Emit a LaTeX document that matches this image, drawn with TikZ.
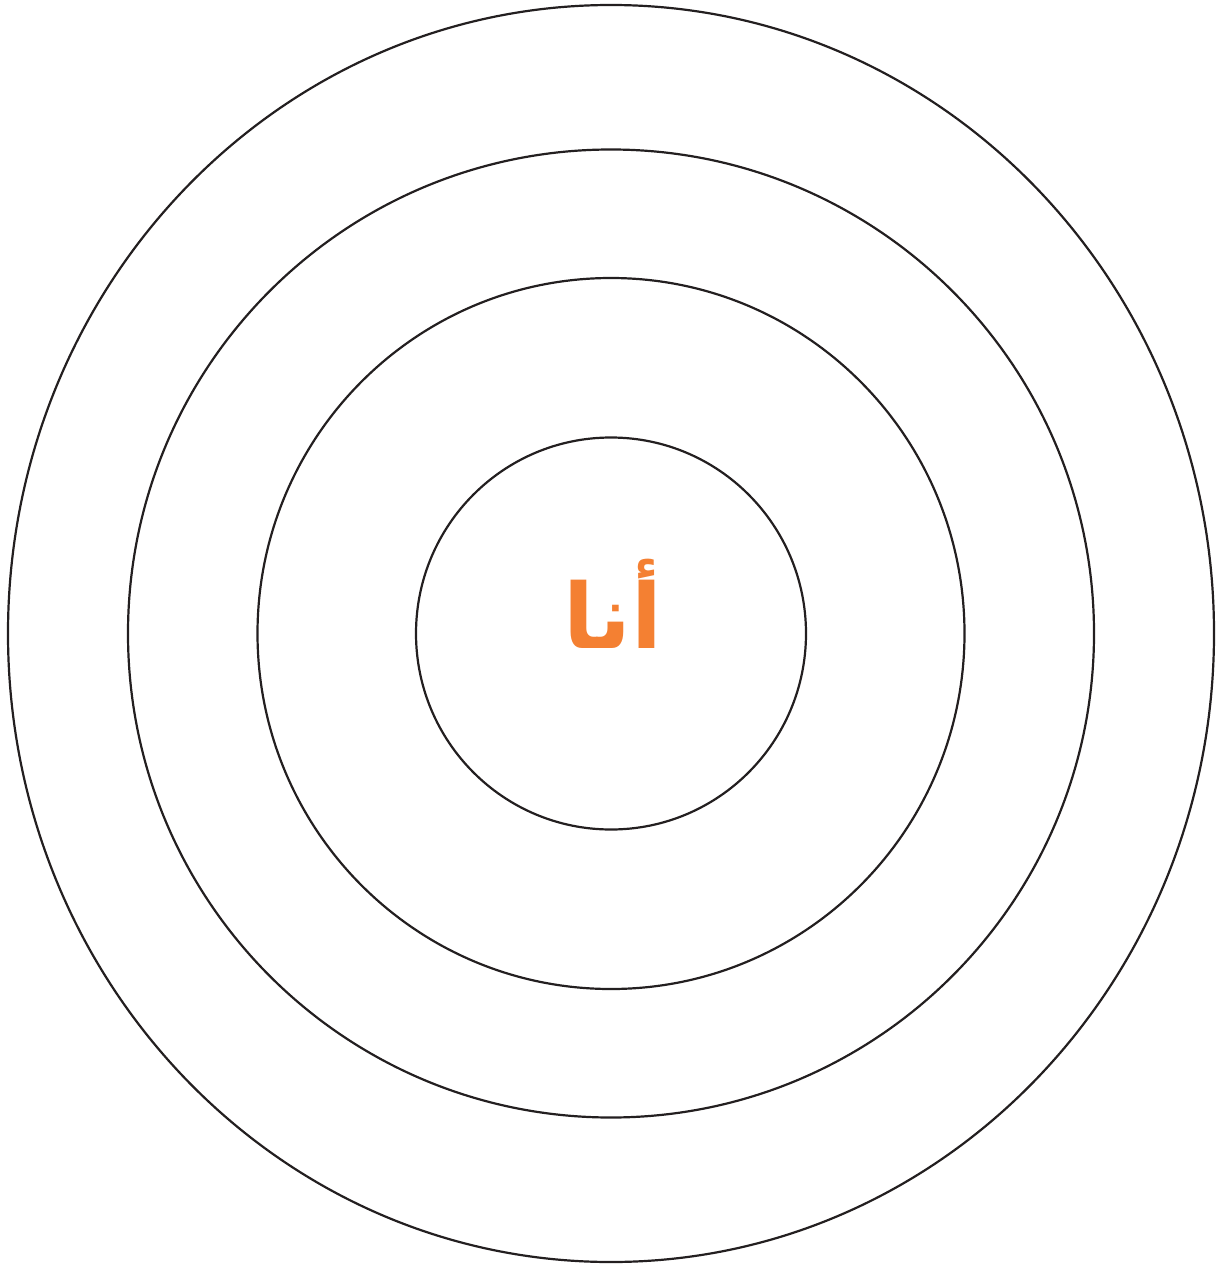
\documentclass[tikz,border=0pt]{standalone}
\usepackage{fontspec}
\usepackage{tikz}
\usetikzlibrary{positioning}
\TeXXeTstate=1
\newfontfamily\arabicfont[Script=Arabic]{DejaVu Sans}
\definecolor{RingBlack}{RGB}{35,31,32}
\definecolor{SelfOrange}{RGB}{244,128,50}
\tikzset{ring/.style={draw=RingBlack,line width=2.2pt}}
\begin{document}
\begin{tikzpicture}[x=1pt,y=-1pt]
\useasboundingbox (0,0) rectangle (1224,1268);
\coordinate (c) at (611,633.5);
% rings from outside in
\foreach \rx/\ry in {603/628.5,483/484,353.5/355.5,195/196}{
\draw[ring] (c) ellipse [x radius=\rx, y radius=\ry];}
\node[text=SelfOrange,font=\fontsize{90}{100}\selectfont\bfseries,anchor=base] (me) at (613,648) {\arabicfont\beginR أنا\endR};
\end{tikzpicture}
\end{document}
